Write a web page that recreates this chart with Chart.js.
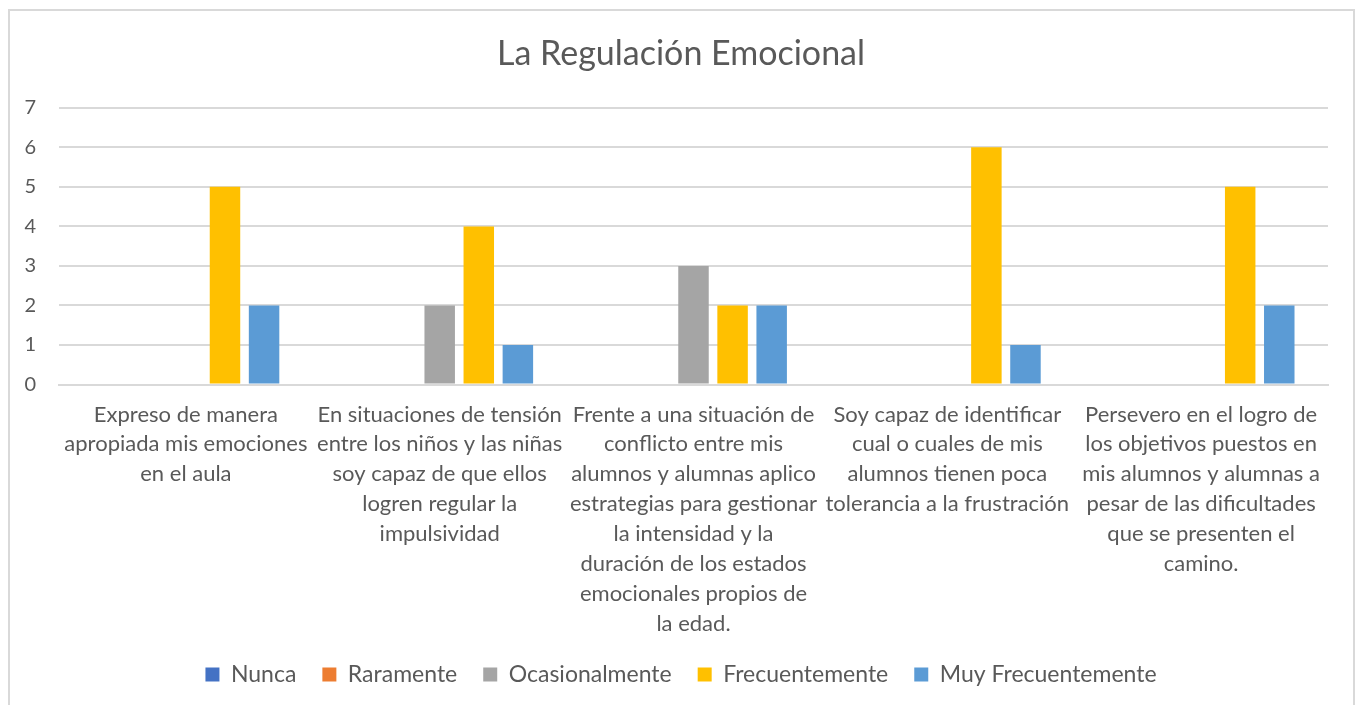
<!DOCTYPE html>
<html>
<head>
<meta charset="utf-8">
<script src="https://cdn.jsdelivr.net/npm/chart.js@4"></script>
<style>
  html, body { margin: 0; padding: 0; background: #fff; overflow: hidden; }
  #frame {
    position: absolute; left: 8px; top: 9px; width: 1347px; height: 720px;
    border: 2px solid #d9d9d9; box-sizing: border-box;
  }
  #wrap { position: absolute; left: 0; top: 0; width: 1362px; height: 705px; }
</style>
</head>
<body>
<div id="frame"></div>
<div id="wrap"><canvas id="grafico"></canvas></div>
<script>
// Categorías (etiquetas partidas en líneas como en el original)
const categorias = [
    ["Expreso de manera", "apropiada mis emociones", "en el aula"],
    ["En situaciones de tensión", "entre los niños y las niñas", "soy capaz de que ellos", "logren regular la", "impulsividad"],
    ["Frente a una situación de", "conflicto entre mis", "alumnos y alumnas aplico", "estrategias para gestionar", "la intensidad y la", "duración de los estados", "emocionales propios de", "la edad."],
    ["Soy capaz de identificar", "cual o cuales de mis", "alumnos tienen poca", "tolerancia a la frustración"],
    ["Persevero en el logro de", "los objetivos puestos en", "mis alumnos y alumnas a", "pesar de las dificultades", "que se presenten el", "camino."]
];

const nunca = [0, 0, 0, 0, 0];
const raramente = [0, 0, 0, 0, 0];
const ocasionalmente = [0, 2, 3, 0, 0];
const frecuentemente = [5, 4, 2, 6, 5];
const muyFrecuentemente = [2, 1, 2, 1, 2];

const FUENTE = "Lato, 'Open Sans', sans-serif";
const GRIS = "#595959";

// las etiquetas largas bajan más que el eje: se amplía la zona de recorte
const sinRecorte = {
    id: "sinRecorte",
    afterLayout(chart) {
        chart.scales.x.bottom += 20;
    }
};

new Chart(document.getElementById("grafico"), {
    type: "bar",
    data: {
        labels: categorias,
        datasets: [
            { label: "Nunca", data: nunca, backgroundColor: "#4472C4" },
            { label: "Raramente", data: raramente, backgroundColor: "#ED7D31" },
            { label: "Ocasionalmente", data: ocasionalmente, backgroundColor: "#A5A5A5" },
            { label: "Frecuentemente", data: frecuentemente, backgroundColor: "#FFC000" },
            { label: "Muy Frecuentemente", data: muyFrecuentemente, backgroundColor: "#5B9BD5" }
        ]
    },
    plugins: [sinRecorte],
    options: {
        responsive: true,
        maintainAspectRatio: false,
        animation: false,
        categoryPercentage: 0.77,
        barPercentage: 0.78,
        layout: { padding: { left: 17, right: 17, top: 34, bottom: 9 } },
        plugins: {
            title: {
                display: true,
                text: "La Regulación Emocional",
                color: GRIS,
                font: { family: FUENTE, size: 34, weight: "normal" },
                padding: { top: 0, bottom: 33 }
            },
            legend: {
                position: "bottom",
                labels: {
                    color: GRIS,
                    font: { family: FUENTE, size: 23 },
                    boxWidth: 14,
                    boxHeight: 14,
                    padding: 26
                }
            },
            tooltip: { enabled: false }
        },
        scales: {
            x: {
                afterFit(scale) { scale.height = 252.5; },
                grid: { display: false, drawTicks: false },
                border: { color: "#d9d9d9", width: 2 },
                ticks: {
                    color: GRIS,
                    font: { family: FUENTE, size: 22, lineHeight: 1.36 },
                    padding: 15,
                    maxRotation: 0,
                    autoSkip: false
                }
            },
            y: {
                min: 0,
                max: 7,
                afterFit(scale) { scale.width = 42; },
                grid: { color: "#d9d9d9", lineWidth: 2, drawTicks: false },
                border: { display: false },
                ticks: {
                    stepSize: 1,
                    color: GRIS,
                    font: { family: FUENTE, size: 20 },
                    padding: 23
                }
            },
            // eje vacío a la derecha: solo deja el margen derecho del área
            margenDerecho: {
                type: "linear",
                position: "right",
                afterFit(scale) { scale.width = 17; },
                grid: { display: false, drawTicks: false },
                border: { display: false },
                ticks: { display: false }
            }
        }
    }
});
</script>
</body>
</html>
